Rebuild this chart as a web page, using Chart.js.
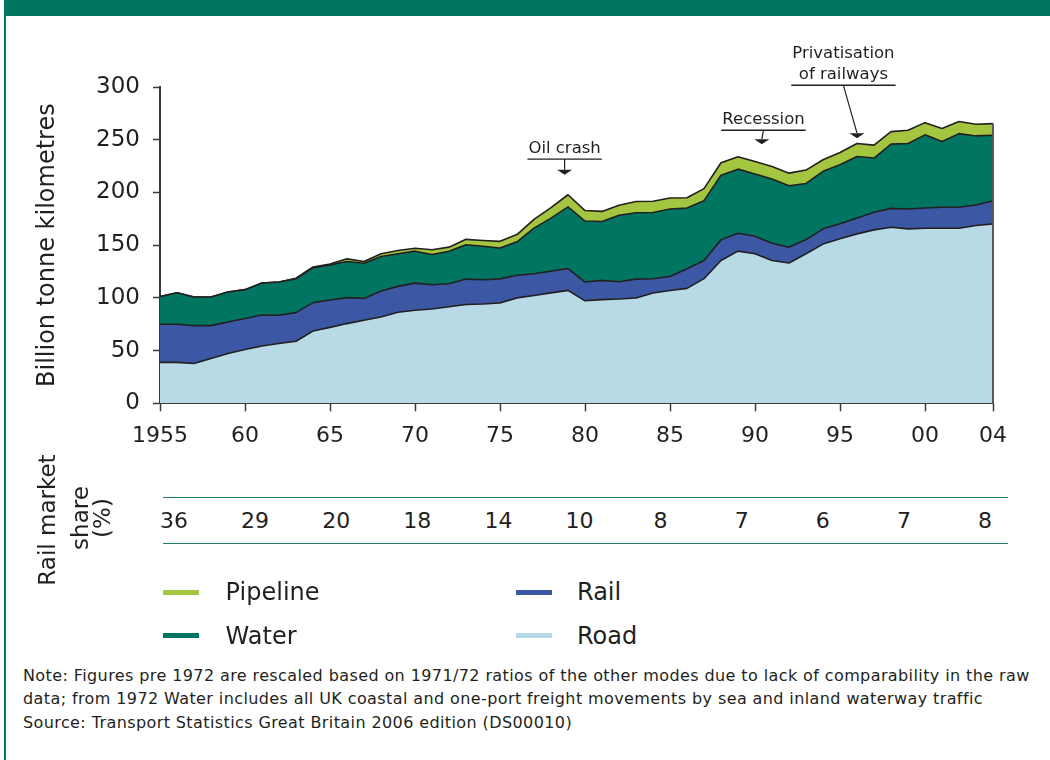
<!DOCTYPE html>
<html>
<head>
<meta charset="utf-8">
<script src="https://cdn.jsdelivr.net/npm/chart.js@4.4.1/dist/chart.umd.min.js"></script>
<style>
  html, body { margin:0; padding:0; background:#fff; }
  body { width:1050px; height:760px; position:relative; overflow:hidden; font-family:"DejaVu Sans", sans-serif; color:#231f20; }
  #c { position:absolute; left:0; top:0; }
  .abs { position:absolute; white-space:nowrap; }
  .rot { position:absolute; white-space:nowrap; transform:translate(-50%,-50%) rotate(-90deg); font-size:23px; line-height:23px; }
  .num { position:absolute; transform:translateX(-50%); font-size:22px; line-height:22px; }
  .leg { position:absolute; font-size:24px; line-height:24px; }
  .sw { position:absolute; width:36px; height:5px; }
  .note { position:absolute; left:23px; top:664px; font-size:16px; letter-spacing:0.4px; line-height:23.3px; white-space:nowrap; }
</style>
</head>
<body>
<canvas id="c" width="1050" height="470"></canvas>
<div class="abs" style="left:4px;top:0;width:1046px;height:16px;background:#007662"></div>
<div class="abs" style="left:4.3px;top:16px;width:1.5px;height:744px;background:#007662"></div>

<div class="rot" style="left:47px;top:520px">Rail market</div>
<div class="rot" style="left:80px;top:518px">share</div>
<div class="rot" style="left:102px;top:518px">(%)</div>
<div class="abs" style="left:163px;top:496.5px;width:845px;height:1.5px;background:#1f806d"></div>
<div class="abs" style="left:163px;top:542.5px;width:845px;height:1.5px;background:#1f806d"></div>
<div id="share"></div>
<div id="legend"></div>
<div class="note">Note: Figures pre 1972 are rescaled based on 1971/72 ratios of the other modes due to lack of comparability in the raw<br>data; from 1972 Water includes all UK coastal and one-port freight movements by sea and inland waterway traffic<br>Source: Transport Statistics Great Britain 2006 edition (DS00010)</div>

<script>
// ---- data (billion tonne kilometres) ----
const years = [1955,1956,1957,1958,1959,1960,1961,1962,1963,1964,
               1965,1966,1967,1968,1969,1970,1971,1972,1973,1974,
               1975,1976,1977,1978,1979,1980,1981,1982,1983,1984,
               1985,1986,1987,1988,1989,1990,1991,1992,1993,1994,
               1995,1996,1997,1998,1999,2000,2001,2002,2003,2004];
const road = [38.8,38.8,37.8,42.5,47.3,51.1,54.3,56.7,58.9,68.6,
              72.0,75.6,78.7,81.9,86.3,88.2,89.4,91.6,93.7,94.2,
              95.1,100.0,102.2,104.7,107.1,97.2,98.3,98.9,99.9,104.6,
              107.0,109.0,118.2,135.5,144.3,141.8,135.5,133.0,141.8,151.0,
              156.0,160.7,164.5,167.0,165.4,166.0,166.0,166.0,168.6,170.2];
const rail = [36.2,36.2,35.9,31.2,29.8,29.3,29.5,26.8,27.1,26.9,
              26.0,24.6,20.8,24.6,24.6,25.8,23.1,21.8,24.1,23.0,
              22.9,21.5,20.7,20.7,20.7,17.8,18.3,16.4,17.9,13.6,
              13.3,18.6,17.3,19.5,17.0,16.7,16.3,15.0,13.5,14.5,
              14.2,15.1,16.7,17.9,18.9,19.3,19.9,19.9,19.5,22.0];
const water = [26.2,29.9,27.1,27.1,28.4,27.4,30.2,31.5,32.2,33.1,
               33.2,34.3,33.4,32.8,30.9,30.3,28.6,30.9,32.6,31.8,
               29.2,31.7,43.3,50.2,58.5,57.9,55.9,63.0,63.0,62.8,
               64.0,57.7,56.7,61.3,60.8,58.9,60.9,58.4,53.2,54.5,
               56.0,58.3,51.4,60.9,62.1,69.3,62.4,69.9,65.5,62.1];
const pipeline = [0,0,0,0,0,0,0,0,0.4,0.7,
                  0.8,2.5,1.6,2.5,3.1,2.8,4.5,3.8,5.1,5.4,
                  6.4,6.8,8.2,10.0,11.5,9.9,9.5,9.5,10.6,10.7,
                  10.4,9.7,11.4,11.8,11.7,11.9,11.9,11.9,12.7,11.0,
                  11.7,12.3,12.3,11.9,12.6,11.6,12.3,11.4,11.1,11.0];
const xTickYears = [1955,1960,1965,1970,1975,1980,1985,1990,1995,2000,2004];
const xTickLabels = ['1955','60','65','70','75','80','85','90','95','00','04'];
const railShare = [36,29,20,18,14,10,8,7,6,7,8];
const seriesNames = ['Road','Rail','Water','Pipeline'];

// ---- styles ----
const COLORS = { Road:'#b8dae6', Rail:'#3c57a4', Water:'#007662', Pipeline:'#a3c53f' };
const INK = '#231f20';
const annotations = [
  { lines:['Oil crash'], textYear:1978.8, lineValue:231.6, tipYear:1978.8, tipValue:216.8 },
  { lines:['Recession'], textYear:1990.5, lineValue:259.0, tipYear:1990.4, tipValue:245.8 },
  { lines:['Privatisation','of railways'], textYear:1995.2, lineValue:301.6, tipYear:1996.0, tipValue:251.5 }
];

const seriesData = { Road: road, Rail: rail, Water: water, Pipeline: pipeline };
const datasets = seriesNames.map((name, i) => ({
  label: name,
  data: years.map((y, k) => ({ x: y, y: seriesData[name][k] })),
  backgroundColor: COLORS[name],
  borderColor: INK,
  borderWidth: 1.6,
  pointRadius: 0,
  tension: 0,
  fill: i === 0 ? 'origin' : '-1'
}));

const extras = {
  id: 'extras',
  afterDatasetsDraw(chart) {
    const { ctx, scales: { x, y } } = chart;
    const last = years.length - 1;
    const total = road[last] + rail[last] + water[last] + pipeline[last];
    ctx.save();
    ctx.strokeStyle = '#5a5a5a';
    ctx.lineWidth = 2;
    ctx.beginPath();
    ctx.moveTo(x.getPixelForValue(years[last]), y.getPixelForValue(0));
    ctx.lineTo(x.getPixelForValue(years[last]), y.getPixelForValue(total));
    ctx.stroke();
    ctx.restore();
  },
  afterDraw(chart) {
    const { ctx, scales: { x, y } } = chart;
    ctx.save();
    ctx.font = '16.5px "DejaVu Sans"';
    ctx.fillStyle = INK;
    ctx.strokeStyle = INK;
    annotations.forEach(a => {
      const cx = x.getPixelForValue(a.textYear);
      const uy = y.getPixelForValue(a.lineValue);
      const w = Math.max(...a.lines.map(l => ctx.measureText(l).width));
      ctx.textAlign = 'center';
      ctx.textBaseline = 'alphabetic';
      a.lines.forEach((l, i) => {
        ctx.fillText(l, cx, uy - 6 - (a.lines.length - 1 - i) * 21.7);
      });
      ctx.lineWidth = 1.4;
      ctx.beginPath();
      ctx.moveTo(cx - w / 2 - 1, uy);
      ctx.lineTo(cx + w / 2 + 1, uy);
      ctx.stroke();
      const tx = x.getPixelForValue(a.tipYear);
      const ty = y.getPixelForValue(a.tipValue);
      ctx.lineWidth = 1.2;
      ctx.beginPath();
      ctx.moveTo(cx, uy);
      ctx.lineTo(tx, ty - 5);
      ctx.stroke();
      ctx.beginPath();
      ctx.moveTo(tx - 7.5, ty - 5);
      ctx.lineTo(tx + 7.5, ty - 5);
      ctx.lineTo(tx, ty);
      ctx.closePath();
      ctx.fill();
    });
    ctx.restore();
  }
};

Chart.defaults.font.family = '"DejaVu Sans"';
Chart.defaults.color = INK;

new Chart(document.getElementById('c'), {
  type: 'line',
  data: { datasets },
  options: {
    responsive: false,
    devicePixelRatio: 1,
    animation: false,
    layout: { padding: { left: 0, top: 87, right: 57, bottom: 0 } },
    plugins: { legend: { display: false }, tooltip: { enabled: false } },
    elements: { line: { borderJoinStyle: 'round' } },
    scales: {
      x: {
        type: 'linear',
        min: 1955, max: 2004,
        afterBuildTicks: (s) => { s.ticks = xTickYears.map(v => ({ value: v })); },
        afterFit: (s) => { s.height = 66.7; },
        ticks: {
          autoSkip: false, maxRotation: 0, padding: 12,
          font: { size: 22 }, color: INK,
          callback: (v) => xTickLabels[xTickYears.indexOf(v)]
        },
        grid: { drawOnChartArea: false, drawTicks: true, tickLength: 8, tickWidth: 1.5, tickColor: '#3a3a3a' },
        border: { display: true, color: '#3a3a3a', width: 2 }
      },
      y: {
        stacked: true,
        min: 0, max: 300,
        afterFit: (s) => { s.width = 160; },
        ticks: { stepSize: 50, padding: 13, font: { size: 23 }, color: INK },
        grid: { drawOnChartArea: false, drawTicks: true, tickLength: 7, tickWidth: 1.5, tickColor: '#3a3a3a' },
        border: { display: true, color: '#3a3a3a', width: 2 },
        title: { display: true, text: 'Billion tonne kilometres', font: { size: 24 }, color: INK, padding: { top: 33.6, bottom: 0 } }
      }
    }
  },
  plugins: [extras]
});

// ---- rail market share row ----
const shareBox = document.getElementById('share');
railShare.forEach((v, i) => {
  const d = document.createElement('div');
  d.className = 'num';
  d.style.left = (174 + i * 81.1) + 'px';
  d.style.top = '509.9px';
  d.textContent = v;
  shareBox.appendChild(d);
});

// ---- legend ----
const legendItems = [
  { name: 'Pipeline', col: 0, row: 0 },
  { name: 'Water', col: 0, row: 1 },
  { name: 'Rail', col: 1, row: 0 },
  { name: 'Road', col: 1, row: 1 }
];
const legendBox = document.getElementById('legend');
legendItems.forEach(it => {
  const sx = it.col === 0 ? 163 : 516;
  const tx = it.col === 0 ? 225.6 : 577;
  const cy = it.row === 0 ? 592 : 635.3;
  const sw = document.createElement('div');
  sw.className = 'sw';
  sw.style.left = sx + 'px';
  sw.style.top = (cy - 2.5) + 'px';
  sw.style.background = COLORS[it.name];
  legendBox.appendChild(sw);
  const t = document.createElement('div');
  t.className = 'leg';
  t.style.left = tx + 'px';
  t.style.top = (cy - 11.6) + 'px';
  t.textContent = it.name;
  legendBox.appendChild(t);
});
</script>
</body>
</html>
